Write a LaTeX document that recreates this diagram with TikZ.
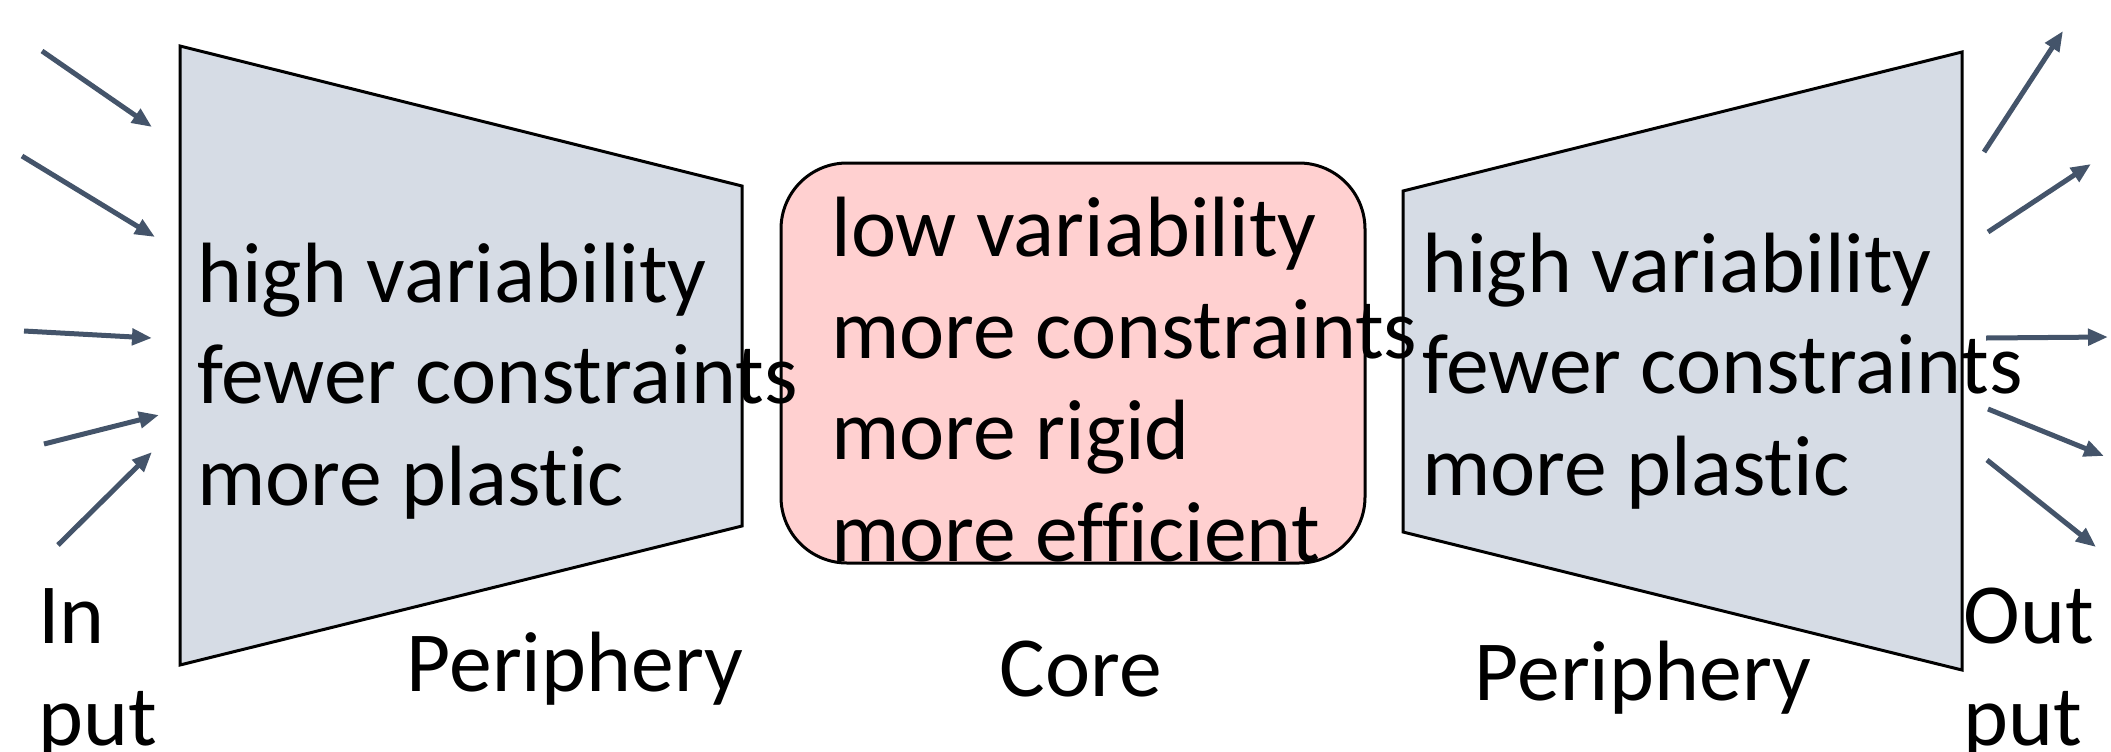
\documentclass[tikz,border=0pt]{standalone}
\usepackage{fontspec}
\setmainfont{Carlito}[Ligatures=NoCommon]
\usetikzlibrary{arrows.meta}
\definecolor{perifill}{HTML}{D6DCE5}
\definecolor{corefill}{HTML}{FFD0D0}
\definecolor{arrowslate}{HTML}{44546A}

\begin{document}
\begin{tikzpicture}[
  x=0.5pt, y=-0.5pt,
  font=\fontsize{42.8}{50.7}\selectfont,
  peri/.style={draw=black, line width=1.5pt, fill=perifill, line join=miter},
  corebox/.style={draw=black, line width=1.5pt, fill=corefill, rounded corners=33pt, minimum width=292pt, minimum height=200pt, inner sep=0pt},
  txt/.style={align=left, anchor=base west, inner sep=0pt},
  lbl/.style={anchor=base, inner sep=0pt},
  arr/.style={-{Triangle[length=10pt,width=8pt]}, line width=2.5pt, draw=arrowslate},
]
  \useasboundingbox (0,0) rectangle (2111,751);
  % periphery blocks
  \draw[peri] (180,46) -- (742,186) -- (742,526) -- (180,665) -- cycle;
  \draw[peri] (1403,191) -- (1962,52) -- (1962,670) -- (1403,532) -- cycle;
  % core
  \node[corebox] (core) at (1073,363) {};
  % input and output arrows
  \foreach \i/\sx/\sy/\ex/\ey in {1/42/51/152/127, 2/22/156/155/237, 3/24/331/152/338, 4/44/444/159/415, 5/58/545/152/452}{
    \coordinate (in\i a) at (\sx,\sy);
    \coordinate (in\i b) at (\ex,\ey);
    \draw[arr] (in\i a) -- (in\i b);
  }
  \foreach \i/\sx/\sy/\ex/\ey in {1/1984/152/2063/31, 2/1988/232/2091/164, 3/1986/338/2108/337, 4/1988/409/2104/456, 5/1987/460/2096/547}{
    \coordinate (out\i a) at (\sx,\sy);
    \coordinate (out\i b) at (\ex,\ey);
    \draw[arr] (out\i a) -- (out\i b);
  }
  % texts (anchored on the baseline of the last line)
  \node[txt] (lefttxt) at (197,505) {high variability\\fewer constraints\\more plastic};
  \node[txt] (coretxt) at (831,561) {low variability\\more constraints\\more rigid\\more efficient};
  \node[txt] (righttxt) at (1422,495) {high variability\\fewer constraints\\more plastic};
  \node[lbl] (leftlbl) at (575,691) {Periphery};
  \node[lbl] (corelbl) at (1081,696) {Core};
  \node[lbl] (rightlbl) at (1643,700) {Periphery};
  \node[txt] (inlbl) at (38,745) {In\\put};
  \node[txt] (outlbl) at (1963,745) {Out\\put};
\end{tikzpicture}
\end{document}
